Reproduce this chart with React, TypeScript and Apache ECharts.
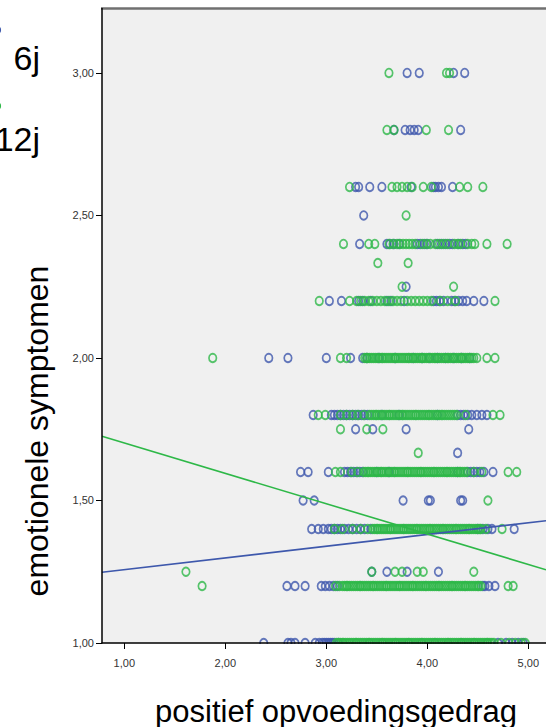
import React, { useEffect, useRef } from "react";
import * as echarts from "echarts";

// y levels of emotionele symptomen (rows of points)
const LEVELS = [3.0, 2.8, 2.6, 2.5, 2.4, 2.333, 2.25, 2.2, 2.0, 1.8, 1.75, 1.667, 1.6, 1.5, 1.4, 1.25, 1.2, 1.0];

// x values (positief opvoedingsgedrag) per level, group 6j
const SIX_J_X: number[][] = [
  [3.8, 3.92, 4.26, 4.37],
  [3.67, 3.78, 3.83, 3.87, 3.91, 4.33],
  [3.29, 3.32, 3.43, 3.55, 3.84, 4.06, 4.08, 4.11, 4.14, 4.25],
  [3.37],
  [3.33, 3.6, 3.63, 3.67, 3.72, 3.9, 3.93, 3.97, 4.0, 4.1, 4.14, 4.18, 4.22, 4.25, 4.31, 4.35, 4.38],
  [],
  [3.79],
  [3.03, 3.15, 3.32, 3.36, 3.44, 3.6, 3.64, 3.77, 4.06, 4.09, 4.12, 4.16, 4.24, 4.27, 4.31, 4.35, 4.39, 4.46, 4.56],
  [2.43, 2.62, 3.0, 3.24, 3.36, 3.4, 3.52, 3.68, 3.86, 3.95, 4.02, 4.1, 4.18, 4.26, 4.34, 4.42],
  [2.87, 3.05, 3.08, 3.11, 3.14, 3.17, 3.2, 3.23, 3.26, 3.29, 3.32, 3.35, 3.38, 3.41, 3.55, 3.72, 4.1, 4.3, 4.33, 4.36, 4.4, 4.44, 4.49, 4.54, 4.59],
  [3.29, 3.46, 3.79, 4.41],
  [4.3],
  [2.745, 2.82, 3.02, 3.18, 3.21, 3.24, 3.27, 3.3, 3.33, 3.36, 3.5, 3.62, 4.3, 4.4, 4.43, 4.46, 4.49, 4.52, 4.56, 4.65],
  [2.77, 2.88, 3.76, 4.01, 4.03, 4.33, 4.35],
  [2.855, 2.92, 2.97, 3.02, 3.05, 3.08, 3.11, 3.14, 3.18, 3.22, 3.26, 3.3, 3.34, 3.38, 3.44, 4.5, 4.55, 4.6, 4.64, 4.86],
  [3.45, 3.6, 3.8, 4.11],
  [2.61, 2.69, 2.79, 2.95, 2.99, 3.03, 3.07, 3.11, 4.55, 4.57, 4.61, 4.67],
  [2.38, 2.62, 2.65, 2.69, 2.79, 2.89, 2.93, 2.96, 2.98, 3.0, 3.02, 3.04, 3.06, 3.08, 3.12, 4.7, 4.78, 4.84, 4.9, 4.95],
];

// x values per level, group 12j
const TWELVE_J_X: number[][] = [
  [3.62, 4.19, 4.22],
  [3.6, 3.67, 3.99, 4.21],
  [3.23, 3.65, 3.7, 3.75, 3.8, 3.85, 3.96, 4.04, 4.32, 4.4, 4.55],
  [3.79],
  [3.17, 3.42, 3.48, 3.62, 3.66, 3.7, 3.73, 3.76, 3.79, 3.82, 3.85, 3.88, 3.95, 3.99, 4.03, 4.08, 4.12, 4.16, 4.2, 4.27, 4.3, 4.33, 4.4, 4.44, 4.47, 4.59, 4.79],
  [3.51, 3.81],
  [3.75, 4.26],
  [2.93, 3.23, 3.3, 3.34, 3.38, 3.42, 3.46, 3.5, 3.54, 3.58, 3.62, 3.66, 3.7, 3.74, 3.8, 3.84, 3.88, 3.92, 3.96, 4.0, 4.04, 4.13, 4.2, 4.28, 4.67],
  [1.875, 3.14, 3.2, 3.38, 3.4, 3.41, 3.43, 3.45, 3.47, 3.49, 3.51, 3.53, 3.55, 3.56, 3.58, 3.6, 3.62, 3.64, 3.66, 3.68, 3.69, 3.71, 3.73, 3.75, 3.77, 3.79, 3.81, 3.82, 3.84, 3.86, 3.88, 3.9, 3.92, 3.94, 3.95, 3.97, 3.99, 4.01, 4.03, 4.05, 4.07, 4.08, 4.1, 4.12, 4.14, 4.16, 4.18, 4.2, 4.21, 4.23, 4.25, 4.27, 4.29, 4.31, 4.33, 4.34, 4.36, 4.38, 4.4, 4.42, 4.44, 4.46, 4.49, 4.59, 4.67],
  [2.92, 2.99, 3.14, 3.2, 3.26, 3.31, 3.37, 3.43, 3.45, 3.47, 3.49, 3.5, 3.52, 3.54, 3.56, 3.58, 3.6, 3.62, 3.63, 3.65, 3.67, 3.69, 3.71, 3.73, 3.75, 3.76, 3.78, 3.8, 3.82, 3.84, 3.86, 3.88, 3.89, 3.91, 3.93, 3.95, 3.97, 3.99, 4.01, 4.02, 4.04, 4.06, 4.08, 4.1, 4.12, 4.14, 4.15, 4.17, 4.19, 4.21, 4.23, 4.25, 4.27, 4.29, 4.38, 4.65, 4.72],
  [3.14, 3.4, 3.56],
  [3.91],
  [3.09, 3.14, 3.25, 3.31, 3.37, 3.39, 3.41, 3.42, 3.44, 3.46, 3.48, 3.5, 3.52, 3.54, 3.55, 3.57, 3.59, 3.61, 3.63, 3.65, 3.67, 3.68, 3.7, 3.72, 3.74, 3.76, 3.78, 3.8, 3.81, 3.83, 3.85, 3.87, 3.89, 3.91, 3.93, 3.94, 3.96, 3.98, 4.0, 4.02, 4.04, 4.06, 4.07, 4.09, 4.11, 4.13, 4.15, 4.17, 4.19, 4.2, 4.22, 4.24, 4.26, 4.28, 4.3, 4.32, 4.33, 4.35, 4.37, 4.39, 4.46, 4.54, 4.8, 4.885],
  [4.6],
  [3.08, 3.16, 3.26, 3.34, 3.41, 3.46, 3.48, 3.5, 3.51, 3.53, 3.55, 3.57, 3.59, 3.61, 3.63, 3.64, 3.66, 3.68, 3.7, 3.72, 3.74, 3.76, 3.77, 3.79, 3.81, 3.83, 3.85, 3.87, 3.89, 3.9, 3.92, 3.94, 3.96, 3.98, 4.0, 4.02, 4.03, 4.05, 4.07, 4.09, 4.11, 4.13, 4.15, 4.16, 4.18, 4.2, 4.22, 4.24, 4.26, 4.28, 4.29, 4.31, 4.33, 4.35, 4.37, 4.39, 4.41, 4.42, 4.44, 4.46, 4.48, 4.5, 4.52, 4.53, 4.58, 4.74],
  [1.61, 3.45, 3.68, 3.75, 3.9, 3.96, 4.46],
  [1.77, 3.09, 3.13, 3.16, 3.18, 3.2, 3.21, 3.23, 3.25, 3.27, 3.29, 3.31, 3.33, 3.34, 3.36, 3.38, 3.4, 3.42, 3.44, 3.46, 3.47, 3.49, 3.51, 3.53, 3.55, 3.57, 3.59, 3.6, 3.62, 3.64, 3.66, 3.68, 3.7, 3.72, 3.73, 3.75, 3.77, 3.79, 3.81, 3.83, 3.85, 3.86, 3.88, 3.9, 3.92, 3.94, 3.96, 3.98, 3.99, 4.01, 4.03, 4.05, 4.07, 4.09, 4.11, 4.12, 4.14, 4.16, 4.18, 4.2, 4.22, 4.24, 4.25, 4.27, 4.29, 4.31, 4.33, 4.35, 4.37, 4.38, 4.4, 4.42, 4.44, 4.46, 4.48, 4.5, 4.51, 4.53, 4.8, 4.85],
  [3.1, 3.12, 3.14, 3.16, 3.17, 3.19, 3.21, 3.23, 3.25, 3.27, 3.29, 3.3, 3.32, 3.34, 3.36, 3.38, 3.4, 3.42, 3.43, 3.45, 3.47, 3.49, 3.51, 3.53, 3.55, 3.56, 3.58, 3.6, 3.62, 3.64, 3.66, 3.68, 3.69, 3.71, 3.73, 3.75, 3.77, 3.79, 3.81, 3.82, 3.84, 3.86, 3.88, 3.9, 3.92, 3.94, 3.95, 3.97, 3.99, 4.01, 4.03, 4.05, 4.07, 4.08, 4.1, 4.12, 4.14, 4.16, 4.18, 4.2, 4.21, 4.23, 4.25, 4.27, 4.29, 4.31, 4.33, 4.34, 4.36, 4.38, 4.4, 4.42, 4.44, 4.46, 4.47, 4.49, 4.51, 4.53, 4.55, 4.57, 4.59, 4.6, 4.62, 4.64, 4.66, 4.73, 4.81, 4.87, 4.93, 4.97],
];

// fit lines (endpoints read at the plot edges)
const FIT_6J: number[][] = [[0.779, 1.248], [5.175, 1.429]];
const FIT_12J: number[][] = [[0.779, 1.725], [5.175, 1.257]];

const X_TICKS = [1, 2, 3, 4, 5];
const Y_TICKS = [1, 1.5, 2, 2.5, 3];
const LEGEND_NAMES = ["6j", "12j"];
const X_TITLE = "positief opvoedingsgedrag";
const Y_TITLE = "emotionele symptomen";

const BLUE = "#3e58ac";
const GREEN = "#2eb848";
const FONT = "'Liberation Sans', Arial, sans-serif";

function toPoints(rows: number[][]): number[][] {
  const out: number[][] = [];
  rows.forEach((xs, i) => xs.forEach((x) => out.push([x, LEVELS[i]])));
  return out;
}

const fmt = (v: number) => v.toFixed(2).replace(".", ",");

export default function App() {
  const ref = useRef<HTMLDivElement>(null);
  useEffect(() => {
    if (!ref.current) return;
    const chart = echarts.init(ref.current, undefined, { renderer: "svg" });
    const scatterStyle = (c: string) => ({
      color: "none",
      borderColor: c,
      borderWidth: 1.8,
    });
    chart.setOption({
      animation: false,
      grid: {
        left: 102,
        top: 8.5,
        right: 0,
        bottom: 84,
        show: true,
        backgroundColor: "#f0f0f0",
        borderWidth: 0,
      },
      xAxis: {
        type: "value",
        min: 0.779,
        max: 5.175,
        z: 10,
        axisLine: { show: true, onZero: false, lineStyle: { color: "#000", width: 1.5 } },
        axisTick: { show: true, length: 6, customValues: X_TICKS, lineStyle: { color: "#000", width: 1 } },
        axisLabel: {
          customValues: X_TICKS,
          formatter: fmt,
          margin: 14,
          fontSize: 11,
          color: "#333",
          fontFamily: FONT,
        },
        splitLine: { show: false },
      },
      yAxis: {
        type: "value",
        min: 1,
        max: 3.226,
        z: 10,
        axisLine: { show: true, onZero: false, lineStyle: { color: "#000", width: 1.5 } },
        axisTick: { show: true, length: 6, customValues: Y_TICKS, lineStyle: { color: "#000", width: 1 } },
        axisLabel: {
          customValues: Y_TICKS,
          formatter: fmt,
          margin: 8,
          fontSize: 11,
          color: "#333",
          fontFamily: FONT,
        },
        splitLine: { show: false },
      },
      series: [
        {
          name: LEGEND_NAMES[0],
          type: "scatter",
          data: toPoints(SIX_J_X),
          symbol: "circle",
          symbolSize: [7.5, 8.5],
          itemStyle: scatterStyle(BLUE),
          clip: false,
          z: 2,
        },
        {
          name: LEGEND_NAMES[1],
          type: "scatter",
          data: toPoints(TWELVE_J_X),
          symbol: "circle",
          symbolSize: [7.5, 8.5],
          itemStyle: scatterStyle(GREEN),
          clip: false,
          z: 2,
        },
        {
          type: "line",
          data: FIT_6J,
          symbol: "none",
          lineStyle: { color: BLUE, width: 1.6 },
          z: 4,
        },
        {
          type: "line",
          data: FIT_12J,
          symbol: "none",
          lineStyle: { color: GREEN, width: 1.6 },
          z: 4,
        },
      ],
      graphic: [
        {
          type: "rect",
          z: 6,
          shape: { x: 100, y: 644, width: 450, height: 9 },
          style: { fill: "#ffffff" },
        },
        {
          type: "line",
          z: 6,
          shape: { x1: 101, y1: 8.5, x2: 546, y2: 8.5 },
          style: { stroke: "#707070", lineWidth: 2.5 },
        },
        {
          type: "circle",
          shape: { cx: -3.5, cy: 30, r: 4 },
          style: { fill: "none", stroke: BLUE, lineWidth: 1.2 },
        },
        {
          type: "circle",
          shape: { cx: -3.5, cy: 106, r: 4 },
          style: { fill: "none", stroke: GREEN, lineWidth: 1.2 },
        },
        {
          type: "text",
          x: 40,
          y: 58,
          style: { text: LEGEND_NAMES[0], fontSize: 34, fontFamily: FONT, fill: "#000", align: "right", verticalAlign: "middle" },
        },
        {
          type: "text",
          x: 40,
          y: 139,
          style: { text: LEGEND_NAMES[1], fontSize: 34, fontFamily: FONT, fill: "#000", align: "right", verticalAlign: "middle" },
        },
        {
          type: "text",
          x: 37,
          y: 431,
          rotation: Math.PI / 2,
          style: { text: Y_TITLE, fontSize: 32, fontFamily: FONT, fill: "#000", align: "center", verticalAlign: "middle" },
        },
        {
          type: "text",
          x: 336,
          y: 711,
          style: { text: X_TITLE, fontSize: 31, fontFamily: FONT, fill: "#000", align: "center", verticalAlign: "middle" },
        },
      ],
    });
    return () => chart.dispose();
  }, []);
  return (
    <div
      ref={ref}
      style={{ position: "absolute", left: 0, top: 0, width: 546, height: 727 }}
    />
  );
}
